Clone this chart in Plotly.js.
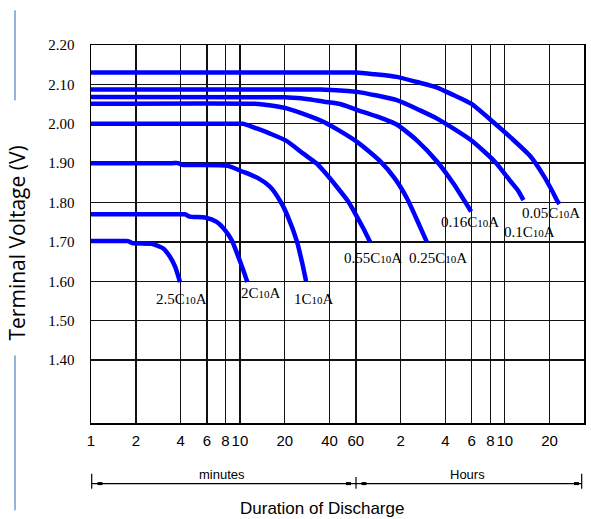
<!DOCTYPE html>
<html>
<head>
<meta charset="utf-8">
<script src="https://cdn.plot.ly/plotly-3.0.1.min.js"></script>
<style>html,body{margin:0;padding:0;background:#fff;}#chart{width:591px;height:519px;}</style>
</head>
<body>
<div id="chart"></div>
<script>
// Discharge duration in minutes, terminal voltage in V
const t_2_5C = [1, 1.6, 1.78, 1.89, 2.56, 3.06, 3.39, 3.67, 3.96];
const v_2_5C = [1.702, 1.702, 1.702, 1.697, 1.695, 1.683, 1.662, 1.637, 1.598];

const t_2C = [1, 3.9, 4.28, 4.62, 5.83, 6.98, 7.94, 8.81, 9.76, 10.54, 11.21];
const v_2C = [1.77, 1.77, 1.77, 1.764, 1.762, 1.751, 1.730, 1.704, 1.662, 1.628, 1.598];

const t_1C = [1, 3.5, 3.84, 4.08, 8.32, 10.17, 13.23, 15.93, 18.88, 21.04, 24.18, 26.12, 27.79];
const v_1C = [1.90, 1.90, 1.90, 1.896, 1.893, 1.880, 1.862, 1.840, 1.80, 1.763, 1.70, 1.648, 1.60];

const t_055C = [1, 9.5, 10.49, 12.97, 15.93, 20.4, 26.66, 32.79, 36.88, 44.68, 53.46, 60.22, 67.42, 74.76];
const v_055C = [2.00, 2.00, 2.00, 1.988, 1.975, 1.957, 1.924, 1.899, 1.878, 1.840, 1.802, 1.768, 1.734, 1.70];

const t_025C = [1, 12.5, 14.29, 20.62, 36.88, 60.22, 87.3, 110.1, 132.5, 154.7, 179.7];
const v_025C = [2.051, 2.051, 2.049, 2.039, 2.004, 1.956, 1.905, 1.86, 1.81, 1.755, 1.70];

const t_016C = [1, 20, 22.73, 28.1, 36.71, 47.0, 60.22, 95.8, 113.0, 154.0, 211.8, 271.2, 356.5];
const v_016C = [2.068, 2.067, 2.066, 2.063, 2.056, 2.050, 2.036, 2.010, 1.998, 1.958, 1.903, 1.848, 1.777];

const t_01C = [1, 35, 40.3, 60.87, 113.0, 162.0, 210.8, 356.5, 516.8, 661.9, 737.6, 800.6];
const v_01C = [2.087, 2.087, 2.086, 2.081, 2.060, 2.034, 2.013, 1.958, 1.903, 1.852, 1.83, 1.806];

const t_005C = [1, 52, 60.22, 78.7, 113.0, 154.0, 210.8, 271.2, 356.5, 516.8, 661.9, 887.9, 1090.6, 1241.6, 1341.7, 1397];
const v_005C = [2.13, 2.13, 2.13, 2.126, 2.119, 2.106, 2.092, 2.073, 2.051, 2.00, 1.964, 1.918, 1.869, 1.831, 1.806, 1.796];

const curveNames = ['2.5', '2', '1', '0.55', '0.25', '0.16', '0.1', '0.05'];
const curveT = [t_2_5C, t_2C, t_1C, t_055C, t_025C, t_016C, t_01C, t_005C];
const curveV = [v_2_5C, v_2C, v_1C, v_055C, v_025C, v_016C, v_01C, v_005C];

const xTickVals = [1, 2, 4, 6, 8, 10, 20, 40, 60, 120, 240, 360, 480, 600, 1200];
const xTickText = ['1', '2', '4', '6', '8', '10', '20', '40', '60', '2', '4', '6', '8', '10', '20'];
const yTickVals = [1.4, 1.5, 1.6, 1.7, 1.8, 1.9, 2.0, 2.1, 2.2];
const yTickText = ['1.40', '1.50', '1.60', '1.70', '1.80', '1.90', '2.00', '2.10', '2.20'];

// label anchor (log10 minutes, volts)
const labelX = [0.609, 1.138, 1.498, 1.896, 2.327, 2.545, 2.942, 3.089];
const labelY = [1.556, 1.569, 1.556, 1.658, 1.658, 1.751, 1.725, 1.774];

const traces = curveT.map((t, i) => ({
  x: t, y: curveV[i], type: 'scatter', mode: 'lines',
  line: {color: '#0000ff', width: 4.5, shape: 'spline', smoothing: 0.6},
  hoverinfo: 'skip', name: curveNames[i] + 'C10A'
}));

const serif = 'Liberation Serif, Times New Roman, serif';
const sans = 'Liberation Sans, Arial, sans-serif';

const annotations = curveNames.map((n, i) => ({
  x: labelX[i], y: labelY[i], xref: 'x', yref: 'y',
  text: n + 'C<span style="font-size:11px">10</span>A',
  showarrow: false, font: {family: serif, size: 15, color: '#000'},
  xanchor: 'center', yanchor: 'middle'
}));

annotations.push(
  {x: -0.150, y: 0.475, xref: 'paper', yref: 'paper', text: 'Terminal Voltage (V)', textangle: -90,
   showarrow: false, font: {family: 'Open Sans, sans-serif', size: 21, color: '#000'}, xanchor: 'center', yanchor: 'middle'},
  {x: 0.2667, y: -0.1375, xref: 'paper', yref: 'paper', text: 'minutes', showarrow: false,
   font: {family: sans, size: 13, color: '#000'}, xanchor: 'center', yanchor: 'middle'},
  {x: 0.7647, y: -0.1375, xref: 'paper', yref: 'paper', text: 'Hours', showarrow: false,
   font: {family: sans, size: 13, color: '#000'}, xanchor: 'center', yanchor: 'middle'},
  {x: 0.4679, y: -0.2265, xref: 'paper', yref: 'paper', text: 'Duration of Discharge', showarrow: false,
   font: {family: sans, size: 17, color: '#000'}, xanchor: 'center', yanchor: 'middle'}
);

const ly = -0.1603;
const shapes = [
  {type: 'line', xref: 'paper', yref: 'paper', x0: -0.1542, x1: -0.1542, y0: 1.0918, y1: 0.8537, line: {color: '#95b3d7', width: 2}},
  {type: 'line', xref: 'paper', yref: 'paper', x0: -0.1542, x1: -0.1542, y0: 0.179, y1: -0.231, line: {color: '#95b3d7', width: 2}},
  {type: 'line', xref: 'paper', yref: 'paper', x0: 0.0014, x1: 0.9953, y0: ly, y1: ly, line: {color: '#000', width: 1.2}},
  {type: 'line', xref: 'paper', yref: 'paper', x0: 0.0014, x1: 0.0014, y0: -0.1344, y1: -0.1738, line: {color: '#000', width: 1.2}},
  {type: 'line', xref: 'paper', yref: 'paper', x0: 0.5375, x1: 0.5375, y0: -0.1429, y1: -0.1738, line: {color: '#000', width: 1.2}},
  {type: 'line', xref: 'paper', yref: 'paper', x0: 0.9953, x1: 0.9953, y0: -0.1344, y1: -0.1738, line: {color: '#000', width: 1.2}},
  {type: 'rect', xref: 'paper', yref: 'paper', x0: 0.0132, x1: 0.0233, y0: ly - 0.004, y1: ly + 0.004, line: {width: 0}, fillcolor: '#000'},
  {type: 'rect', xref: 'paper', yref: 'paper', x0: 0.5172, x1: 0.5274, y0: ly - 0.004, y1: ly + 0.004, line: {width: 0}, fillcolor: '#000'},
  {type: 'rect', xref: 'paper', yref: 'paper', x0: 0.5487, x1: 0.5588, y0: ly - 0.004, y1: ly + 0.004, line: {width: 0}, fillcolor: '#000'},
  {type: 'rect', xref: 'paper', yref: 'paper', x0: 0.9797, x1: 0.9899, y0: ly - 0.004, y1: ly + 0.004, line: {width: 0}, fillcolor: '#000'}
];

const layout = {
  width: 591, height: 519,
  margin: {l: 91, r: 7, t: 45, b: 96},
  paper_bgcolor: '#fff', plot_bgcolor: '#fff',
  showlegend: false,
  xaxis: {
    type: 'log', range: [0, 3.31],
    tickmode: 'array', tickvals: xTickVals, ticktext: xTickText,
    showgrid: true, gridcolor: '#111', gridwidth: 1.4,
    showline: true, mirror: true, linecolor: '#000', linewidth: 1.5,
    ticks: '', ticklabelstandoff: 3, tickangle: 0,
    tickfont: {family: sans, size: 15, color: '#000'},
    zeroline: false, fixedrange: true
  },
  yaxis: {
    range: [1.24, 2.20],
    tickmode: 'array', tickvals: yTickVals, ticktext: yTickText,
    showgrid: true, gridcolor: '#111', gridwidth: 1.4,
    showline: true, mirror: true, linecolor: '#000', linewidth: 1.5,
    ticks: '', ticklabelstandoff: 12,
    tickfont: {family: serif, size: 15, color: '#000'},
    zeroline: false, fixedrange: true
  },
  annotations: annotations,
  shapes: shapes
};

Plotly.newPlot('chart', traces, layout, {displayModeBar: false, staticPlot: true});
</script>
</body>
</html>
